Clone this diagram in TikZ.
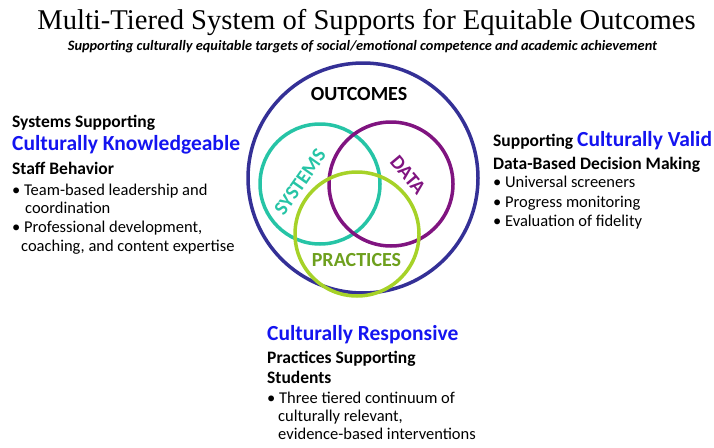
\documentclass[tikz,border=0pt]{standalone}
\usepackage{fontspec}
\setmainfont{Carlito}
\newfontfamily\titlefont{Liberation Serif}
\definecolor{outerc}{RGB}{52,48,150}
\definecolor{tealc}{RGB}{38,196,166}
\definecolor{purpc}{RGB}{128,20,128}
\definecolor{limec}{RGB}{166,210,40}
\definecolor{pracc}{RGB}{110,160,30}
\definecolor{bluec}{RGB}{20,20,240}
\tikzset{
  txt/.style={anchor=base west, inner sep=0pt, font=\fontsize{16.5}{16.5}\selectfont},
  hd/.style={anchor=base west, inner sep=0pt, font=\fontsize{17.5}{17.5}\selectfont\bfseries},
  bl/.style={anchor=base west, inner sep=0pt, font=\fontsize{21.5}{21.5}\selectfont\bfseries, text=bluec},
  ring/.style={line width=3.5pt},
  lbl/.style={inner sep=0pt, font=\fontsize{20}{20}\selectfont\bfseries}
}
\begin{document}
\begin{tikzpicture}[x=1pt,y=-1pt]
\useasboundingbox (0,0) rectangle (714,447);
% title
\node[anchor=base, inner sep=0pt, font=\titlefont\fontsize{28.6}{28.6}\selectfont] (title) at (366.5,29) {Multi-Tiered System of Supports for Equitable Outcomes};
\node[anchor=base, inner sep=0pt, font=\fontsize{14.35}{14.35}\selectfont\bfseries\itshape] (sub) at (362.5,50) {Supporting culturally equitable targets of social/emotional competence and academic achievement};
% circles
\draw[ring, draw=outerc] (363,178) circle (115);
\draw[ring, draw=tealc] (320,184) circle (60);
\draw[ring, draw=purpc] (391,184) circle (62);
\draw[ring, draw=limec] (357,234) circle (62);
\node[lbl] (outc) at (359,94) {OUTCOMES};
\node[lbl, text=tealc, rotate=55] (sys) at (300,182) {SYSTEMS};
\node[lbl, text=purpc, rotate=-50] (data) at (408,175) {DATA};
\node[lbl, text=pracc] (prac) at (356.5,260.5) {PRACTICES};
% left
\node[hd] (l1) at (12,127) {Systems Supporting};
\node[bl] (l2) at (12,150) {Culturally Knowledgeable};
\node[hd] (l3) at (12,174) {Staff Behavior};
\node[txt] (l4) at (12,195) {\textbullet\ Team-based leadership and};
\node[txt] (l5) at (25,213) {coordination};
\node[txt] (l6) at (12,232) {\textbullet\ Professional development,};
\node[txt] (l7) at (21,251) {coaching, and content expertise};
% right
\node[hd] (r1) at (493,146) {Supporting \textcolor{bluec}{\fontsize{21.5}{21.5}\selectfont Culturally Valid}};
\node[hd] (r2) at (493,169) {Data-Based Decision Making};
\node[txt] (r3) at (493,187) {\textbullet\ Universal screeners};
\node[txt] (r4) at (493,207) {\textbullet\ Progress monitoring};
\node[txt] (r5) at (493,226) {\textbullet\ Evaluation of fidelity};
% bottom
\node[bl] (b1) at (267,340) {Culturally Responsive};
\node[hd] (b2) at (267,363) {Practices Supporting};
\node[hd] (b3) at (267,383) {Students};
\node[txt] (b4) at (267,403) {\textbullet\ Three tiered continuum of};
\node[txt] (b5) at (278,421) {culturally relevant,};
\node[txt] (b6) at (278,439) {evidence-based interventions};
\end{tikzpicture}
\end{document}
